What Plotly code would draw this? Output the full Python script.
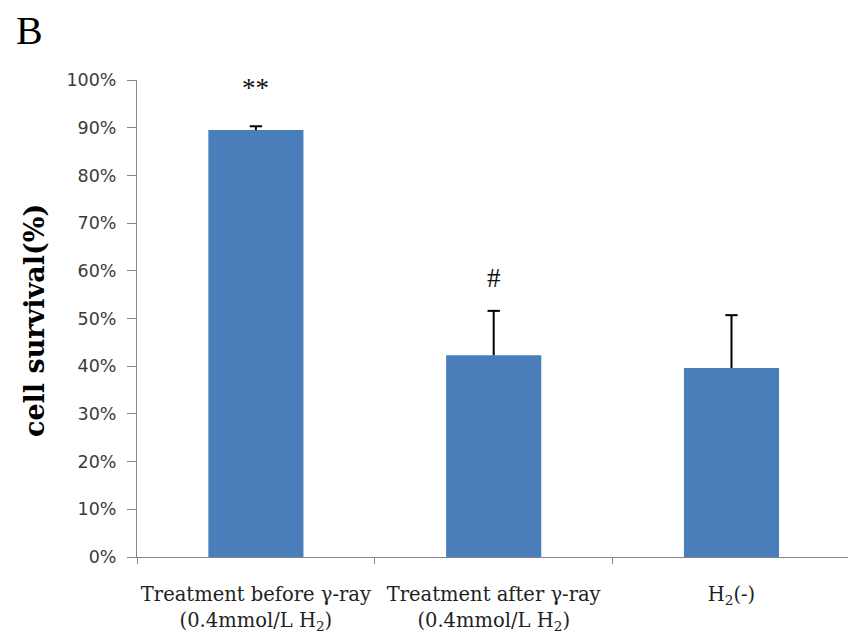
import plotly.graph_objects as go

# Survival data per treatment group
groups = [
    "Treatment before γ-ray<br>(0.4mmol/L H<sub>2</sub>)",
    "Treatment after γ-ray<br>(0.4mmol/L H<sub>2</sub>)",
    "H<sub>2</sub>(-)",
]
survival = [0.895, 0.423, 0.396]
sem = [0.008, 0.093, 0.111]
significance = ["**", "#", ""]
sig_shift = [38, 33, 0]
y_ticks = [0, 0.1, 0.2, 0.3, 0.4, 0.5, 0.6, 0.7, 0.8, 0.9, 1.0]

BAR_BLUE = "#4A7EBB"
AXIS_GREY = "#868686"
pos = list(range(len(groups)))
cap = 0.026

# plot-area geometry in pixels
W, H = 848, 637
ML, MR, MT, MB = 137, 0, 80, 80
PW, PH = W - ML - MR, H - MT - MB

fig = go.Figure()
fig.add_trace(go.Bar(
    x=pos, y=survival, width=0.40,
    marker=dict(color=BAR_BLUE, line=dict(width=0)),
    hoverinfo="skip",
))

# upper error bars only (stem plus cap)
ex, ey = [], []
for p, v, e in zip(pos, survival, sem):
    ex += [p, p, None, p - cap, p + cap, None]
    ey += [v, v + e, None, v + e, v + e, None]
fig.add_trace(go.Scatter(
    x=ex, y=ey, mode="lines",
    line=dict(color="#000000", width=2),
    hoverinfo="skip",
))

for p, v, e, s, sh in zip(pos, survival, sem, significance, sig_shift):
    if s:
        fig.add_annotation(
            x=p, y=v + e, xref="x", yref="y", text=s, showarrow=False,
            yanchor="middle", yshift=sh,
            font=dict(family="Liberation Serif", size=27, color="#111111"),
        )

# y-axis title
fig.add_annotation(
    x=(34 - ML) / PW, y=(H - MB - 321) / PH, xref="paper", yref="paper",
    text="<b>cell survival(%)</b>", textangle=-90, showarrow=False,
    xanchor="center", yanchor="middle",
    font=dict(family="DejaVu Serif", size=27, color="#000000"),
)
# panel letter
fig.add_annotation(
    x=(14 - ML) / PW, y=1 + (MT - 6) / PH, xref="paper", yref="paper",
    text="B", showarrow=False, xanchor="left", yanchor="top",
    font=dict(family="Liberation Serif", size=40, color="#000000"),
)

fig.update_layout(
    width=W, height=H,
    margin=dict(l=ML, r=MR, t=MT, b=MB),
    paper_bgcolor="white", plot_bgcolor="white",
    showlegend=False,
    xaxis=dict(
        range=[-0.5, 2.49],
        tickmode="array", tickvals=pos, ticktext=groups,
        ticks="", showgrid=False, zeroline=False,
        showline=True, linecolor=AXIS_GREY, linewidth=1,
        tickfont=dict(family="DejaVu Serif", size=19.5, color="#222222"),
        ticklabelstandoff=20,
        minor=dict(tickvals=[-0.5, 0.5, 1.5], ticks="outside", ticklen=6,
                   tickcolor=AXIS_GREY, showgrid=False),
    ),
    yaxis=dict(
        range=[0, 1.0], tickmode="array", tickvals=y_ticks,
        tickformat=".0%", ticks="outside", ticklen=9, tickcolor=AXIS_GREY,
        showgrid=False, zeroline=False,
        showline=True, linecolor=AXIS_GREY, linewidth=1,
        tickfont=dict(family="DejaVu Sans", size=17.5, color="#3a3a3a"),
        ticklabelstandoff=7,
    ),
)

fig.write_html("out.html")
